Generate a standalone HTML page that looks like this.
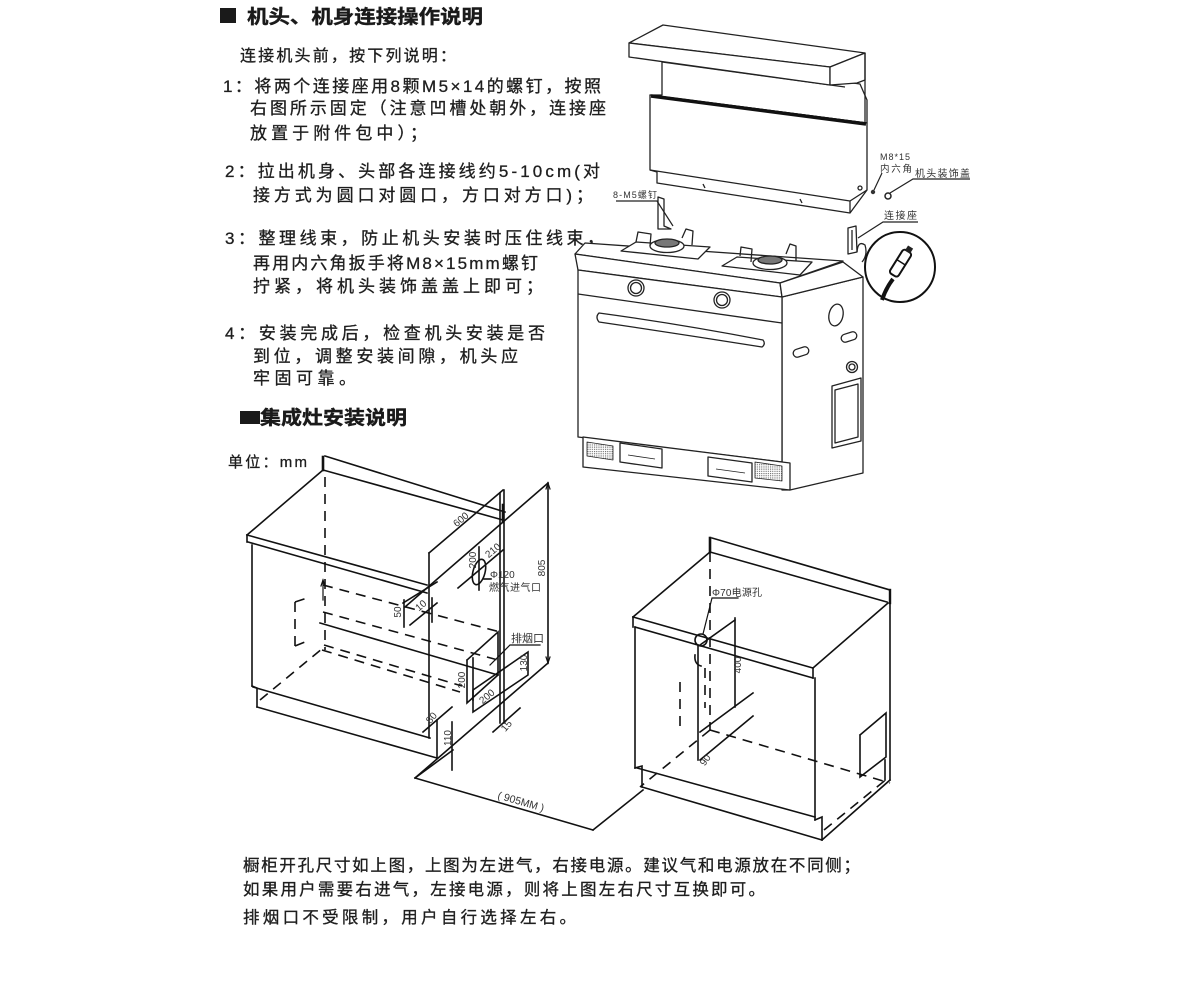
<!DOCTYPE html>
<html><head><meta charset="utf-8"><style>
html,body{margin:0;padding:0;background:#fff;}
svg{display:block;}
.t{font-family:"Liberation Sans","Noto Sans CJK SC",sans-serif;fill:#1e1e1e;stroke:#1e1e1e;stroke-width:0.3;}
.b{font-family:"Liberation Sans","Noto Sans CJK SC",sans-serif;font-weight:bold;fill:#1a1a1a;stroke:#1a1a1a;stroke-width:0.4;}
.s{font-family:"Liberation Sans","Noto Sans CJK SC",sans-serif;fill:#333;}
</style></head><body>
<svg width="1200" height="1000" viewBox="0 0 1200 1000" xmlns="http://www.w3.org/2000/svg">
<defs>
<pattern id="grill" width="2.2" height="2.2" patternUnits="userSpaceOnUse"><rect width="1.1" height="1.1" fill="#666"/></pattern>
</defs>
<rect width="1200" height="1000" fill="#fff"/>

<!-- ===== TEXT: section 1 ===== -->
<rect x="220" y="8" width="16" height="15" fill="#1a1a1a"/>
<text class="b" x="247" y="23" font-size="19" textLength="236" lengthAdjust="spacingAndGlyphs">机头、机身连接操作说明</text>
<text class="t" x="240" y="61" font-size="16" textLength="216" lengthAdjust="spacing">连接机头前，按下列说明：</text>

<text class="t" x="223" y="92" font-size="17" textLength="378" lengthAdjust="spacing">1：将两个连接座用8颗M5×14的螺钉，按照</text>
<text class="t" x="250" y="114" font-size="17" textLength="356" lengthAdjust="spacing">右图所示固定（注意凹槽处朝外，连接座</text>
<text class="t" x="250" y="139" font-size="17" textLength="177" lengthAdjust="spacing">放置于附件包中）；</text>

<text class="t" x="225" y="177" font-size="17" textLength="375" lengthAdjust="spacing">2：拉出机身、头部各连接线约5-10cm(对</text>
<text class="t" x="253" y="201" font-size="17" textLength="340" lengthAdjust="spacing">接方式为圆口对圆口，方口对方口)；</text>

<text class="t" x="225" y="244" font-size="17" textLength="379" lengthAdjust="spacing">3：整理线束，防止机头安装时压住线束，</text>
<text class="t" x="253" y="269" font-size="17" textLength="285" lengthAdjust="spacing">再用内六角扳手将M8×15mm螺钉</text>
<text class="t" x="253" y="292" font-size="17" textLength="290" lengthAdjust="spacing">拧紧，将机头装饰盖盖上即可；</text>

<text class="t" x="225" y="339" font-size="17" textLength="320" lengthAdjust="spacing">4：安装完成后，检查机头安装是否</text>
<text class="t" x="253" y="362" font-size="17" textLength="265" lengthAdjust="spacing">到位，调整安装间隙，机头应</text>
<text class="t" x="253" y="384" font-size="17" textLength="103" lengthAdjust="spacing">牢固可靠。</text>

<rect x="240" y="411" width="20" height="13" fill="#1a1a1a"/>
<text class="b" x="260" y="424" font-size="19" textLength="147" lengthAdjust="spacingAndGlyphs">集成灶安装说明</text>

<text class="t" x="228" y="467" font-size="15" textLength="79" lengthAdjust="spacing">单位：mm</text>

<!-- bottom text -->
<text class="t" x="243" y="871" font-size="16.5" textLength="617" lengthAdjust="spacing">橱柜开孔尺寸如上图，上图为左进气，右接电源。建议气和电源放在不同侧；</text>
<text class="t" x="243" y="895" font-size="16.5" textLength="522" lengthAdjust="spacing">如果用户需要右进气，左接电源，则将上图左右尺寸互换即可。</text>
<text class="t" x="243" y="923" font-size="16.5" textLength="333" lengthAdjust="spacing">排烟口不受限制，用户自行选择左右。</text>

<!-- ===== STOVE / HOOD ===== -->
<g stroke="#222" stroke-width="1.3" fill="#fff" stroke-linejoin="round">
  <polygon points="662,56 860,84 867,100 867,123 650,95 662,95"/>
  <line x1="662" y1="62" x2="845" y2="87"/>
  <polygon points="629,43 663,25 865,53 830,67"/>
  <polygon points="629,43 830,67 830,85 629,57"/>
  <polygon points="830,67 865,53 865,80 857,83 830,85"/>
  <line x1="865" y1="53" x2="865" y2="123"/>
  <polygon points="650,95 867,123 867,190 850,213 657,183 657,172 650,170"/>
  <line x1="650" y1="170" x2="850" y2="201"/>
  <line x1="850" y1="201" x2="850" y2="213"/>
  <line x1="850" y1="201" x2="867" y2="190"/>
  <line x1="703" y1="184" x2="705" y2="188"/>
  <line x1="800" y1="199" x2="802" y2="203"/>
  <circle cx="860" cy="188" r="2"/>
</g>
<line x1="651" y1="96" x2="866" y2="124" stroke="#111" stroke-width="3.5"/>

<g stroke="#222" stroke-width="1.3" fill="#fff" stroke-linejoin="round">
  <polygon points="782,297 863,277 863,473 790,490 782,490"/>
  <polygon points="575,254 585,243 843,261 780,283"/>
  <polygon points="575,254 780,283 782,297 578,270"/>
  <polygon points="780,283 843,262 863,277 782,297"/>
  <polygon points="578,270 782,297 782,462 578,437"/>
  <line x1="578" y1="294" x2="782" y2="323"/>
  <polygon points="583,437 782,462 790,463 790,490 583,467"/>
  <circle cx="636" cy="288" r="8"/><circle cx="636" cy="288" r="5.5"/>
  <circle cx="722" cy="300" r="8"/><circle cx="722" cy="300" r="5.5"/>
  <path d="M599,313 Q680,324 763,340 Q766,344 762,347 Q680,334 599,322 Q595,317 599,313 Z"/>
  <polygon points="621,251 636,242 710,247 698,259"/>
  <polygon points="722,266 737,257 812,262 800,275"/>
  <ellipse cx="667" cy="246" rx="17" ry="6.5"/>
  <ellipse cx="667" cy="243" rx="12" ry="4" fill="#777"/>
  <ellipse cx="770" cy="263" rx="17" ry="6.5"/>
  <ellipse cx="770" cy="260" rx="12" ry="4" fill="#777"/>
  <polyline fill="none" points="636,242 638,232 651,234 650,246"/>
  <polyline fill="none" points="682,238 686,229 693,231 692,245"/>
  <polyline fill="none" points="740,256 741,247 752,249 751,262"/>
  <polyline fill="none" points="786,254 790,244 796,246 796,261"/>
  <polygon points="658,197 664,199 664,226 671,229 658,229"/>
  <polygon points="848,228 856,226 857,252 848,254"/>
  <line x1="852" y1="230" x2="852" y2="250"/>
  <path d="M857,252 Q858,240 865,245 Q868,255 862,262" fill="none"/>
  <ellipse cx="836" cy="315" rx="7" ry="11" transform="rotate(12 836 315)"/>
  <rect x="841" y="333" width="16" height="8" rx="4" transform="rotate(-18 849 337)"/>
  <rect x="793" y="348" width="16" height="8" rx="4" transform="rotate(-18 801 352)"/>
  <circle cx="852" cy="367" r="5.5"/><circle cx="852" cy="367" r="3"/>
  <polygon points="832,386 861,378 861,441 832,448"/>
  <polygon points="835,390 858,384 858,437 835,443"/>
  <polygon points="587,442 613,446 613,460 587,456" fill="url(#grill)" stroke-width="0.8"/>
  <polygon points="620,443 662,449 662,468 620,462"/>
  <line x1="628" y1="455" x2="655" y2="459" stroke-width="0.8"/>
  <polygon points="708,457 752,463 752,482 708,476"/>
  <line x1="716" y1="469" x2="745" y2="473" stroke-width="0.8"/>
  <polygon points="755,462 782,466 782,481 755,478" fill="url(#grill)" stroke-width="0.8"/>
</g>

<g stroke="#222" stroke-width="1.2" fill="none">
  <polyline points="616,201 657,201 673,226"/>
  <line x1="882" y1="173" x2="874" y2="190"/>
  <polyline points="970,179 913,179 890,193"/>
  <polyline points="918,222 883,222 858,238"/>
</g>
<circle cx="873" cy="192" r="2.2" fill="#333"/>
<circle cx="888" cy="196" r="3" fill="#fff" stroke="#222" stroke-width="1.5"/>
<text class="s" x="613" y="198" font-size="9" textLength="44" lengthAdjust="spacing">8-M5螺钉</text>
<text class="s" x="880" y="160" font-size="9" textLength="30" lengthAdjust="spacing">M8*15</text>
<text class="s" x="880" y="172" font-size="9.5" textLength="32" lengthAdjust="spacing">内六角</text>
<text class="s" x="915" y="177" font-size="10" textLength="55" lengthAdjust="spacing">机头装饰盖</text>
<text class="s" x="884" y="219" font-size="10" textLength="33" lengthAdjust="spacing">连接座</text>

<circle cx="900" cy="267" r="35" fill="#fff" stroke="#111" stroke-width="2"/>
<path d="M882,300 Q886,288 893,279" stroke="#111" stroke-width="4" fill="none"/>
<g transform="rotate(32 900 264)">
  <rect x="895" y="249" width="10" height="28" rx="3" fill="#fff" stroke="#111" stroke-width="2"/>
  <line x1="895" y1="262" x2="905" y2="262" stroke="#111" stroke-width="1.5"/>
  <rect x="897" y="244" width="6" height="6" fill="#222"/>
</g>

<!-- ===== LEFT CABINET DIAGRAM ===== -->
<g stroke="#111" stroke-width="1.6" fill="none" stroke-linecap="square">
  <line x1="323" y1="457" x2="323" y2="470" stroke-width="2.6"/>
  <line x1="325" y1="456" x2="505" y2="512"/>
  <line x1="323" y1="470" x2="503" y2="520"/>
  <line x1="503" y1="505" x2="503" y2="522" stroke-width="2.6"/>
  <line x1="323" y1="470" x2="247" y2="535"/>
  <line x1="247" y1="535" x2="247" y2="542"/>
  <line x1="247" y1="535" x2="427" y2="585"/>
  <line x1="248" y1="542" x2="427" y2="593"/>
  <line x1="252" y1="545" x2="252" y2="686"/>
  <polyline points="252,686 257,688 257,707"/>
  <line x1="253" y1="687" x2="430" y2="738"/>
  <line x1="257" y1="707" x2="437" y2="758"/>
  <line x1="429" y1="553" x2="429" y2="738"/>
  <line x1="437" y1="720" x2="437" y2="758"/>
  <line x1="429" y1="553" x2="503" y2="490"/>
  <line x1="500" y1="493" x2="500" y2="723"/>
  <line x1="504" y1="490" x2="504" y2="723"/>
  <line x1="405" y1="607" x2="548" y2="483"/>
  <line x1="548" y1="483" x2="548" y2="663"/>
  <line x1="548" y1="663" x2="415" y2="778"/>
  <line x1="415" y1="778" x2="593" y2="830"/>
  <line x1="593" y1="830" x2="643" y2="790"/>
  <ellipse cx="479" cy="572" rx="6" ry="13" transform="rotate(15 479 572)"/>
  <line x1="458" y1="588" x2="503" y2="550"/>
  <line x1="479" y1="547" x2="479" y2="590"/>
  <line x1="484" y1="579" x2="491" y2="579"/>
  <line x1="403" y1="603" x2="437" y2="582"/>
  <line x1="410" y1="625" x2="437" y2="603"/>
  <line x1="404" y1="600" x2="404" y2="627"/>
  <line x1="432" y1="598" x2="432" y2="622"/>
  <line x1="320" y1="623" x2="498" y2="675"/>
  <polyline points="467,660 467,703 498,675 498,632 467,660"/>
  <line x1="473" y1="658" x2="473" y2="700"/>
  <polygon points="473,690 528,652 528,675 473,712"/>
  <polyline points="490,665 510,645 540,645" stroke-width="1.2"/>
  <line x1="423" y1="732" x2="452" y2="707"/>
  <line x1="452" y1="722" x2="452" y2="770"/>
  <line x1="493" y1="732" x2="520" y2="708"/>
  <line x1="415" y1="778" x2="453" y2="750"/>
  <!-- small arrow ticks -->
  <polyline points="321,586 323,580 325,586" stroke-width="1.2"/>
  <line x1="323" y1="580" x2="323" y2="600" stroke-width="1.2"/>
  <polyline points="546,489 548,483 550,489" stroke-width="1.2"/>
  <polyline points="546,657 548,663 550,657" stroke-width="1.2"/>
</g>
<g stroke="#111" stroke-width="1.6" fill="none" stroke-dasharray="10 7">
  <line x1="325" y1="477" x2="325" y2="650"/>
  <line x1="323" y1="585" x2="500" y2="632"/>
  <line x1="323" y1="612" x2="498" y2="660"/>
  <line x1="322" y1="650" x2="460" y2="692"/>
  <line x1="324" y1="645" x2="462" y2="686"/>
  <line x1="260" y1="700" x2="323" y2="648"/>
  <line x1="295" y1="602" x2="295" y2="646"/>
  <line x1="295" y1="602" x2="310" y2="597"/>
  <line x1="295" y1="646" x2="310" y2="640"/>
</g>
<g class="s" font-size="10" fill="#333">
  <text transform="translate(463 522) rotate(-40)" text-anchor="middle">600</text>
  <text transform="translate(545 568) rotate(-90)" text-anchor="middle">805</text>
  <text transform="translate(476 560) rotate(-90)" text-anchor="middle">200</text>
  <text transform="translate(495 553) rotate(-40)" text-anchor="middle">210</text>
  <text x="490" y="578" class="s">Φ120</text>
  <text x="489" y="591" class="s" textLength="52" lengthAdjust="spacing">燃气进气口</text>
  <text transform="translate(401 612) rotate(-90)" text-anchor="middle">50</text>
  <text transform="translate(423 608) rotate(-40)" text-anchor="middle">10</text>
  <text x="511" y="642" class="s" font-size="11">排烟口</text>
  <text transform="translate(527 663) rotate(-90)" text-anchor="middle">130</text>
  <text transform="translate(465 680) rotate(-90)" text-anchor="middle">200</text>
  <text transform="translate(489 699) rotate(-40)" text-anchor="middle">200</text>
  <text transform="translate(434 720) rotate(-50)" text-anchor="middle">80</text>
  <text transform="translate(451 738) rotate(-90)" text-anchor="middle">110</text>
  <text transform="translate(509 728) rotate(-50)" text-anchor="middle">15</text>
  <text transform="translate(520 805) rotate(16)" text-anchor="middle" font-size="10.5">( 905MM )</text>
</g>

<!-- ===== RIGHT CABINET DIAGRAM ===== -->
<g stroke="#111" stroke-width="1.6" fill="none" stroke-linecap="square">
  <line x1="710" y1="538" x2="710" y2="552" stroke-width="2.6"/>
  <line x1="712" y1="538" x2="890" y2="590"/>
  <line x1="890" y1="590" x2="890" y2="603" stroke-width="2.4"/>
  <line x1="710" y1="552" x2="887" y2="602"/>
  <line x1="710" y1="552" x2="633" y2="617"/>
  <line x1="633" y1="617" x2="633" y2="627"/>
  <line x1="633" y1="617" x2="813" y2="668"/>
  <line x1="635" y1="627" x2="813" y2="678"/>
  <line x1="813" y1="668" x2="813" y2="678"/>
  <line x1="813" y1="668" x2="888" y2="603"/>
  <line x1="890" y1="603" x2="890" y2="780"/>
  <line x1="635" y1="627" x2="635" y2="768"/>
  <polyline points="635,768 642,766 642,787"/>
  <line x1="637" y1="768" x2="815" y2="817"/>
  <line x1="815" y1="678" x2="815" y2="820"/>
  <polyline points="815,820 822,817 822,840"/>
  <line x1="642" y1="787" x2="822" y2="840"/>
  <line x1="822" y1="840" x2="890" y2="780"/>
  <polyline points="860,735 860,777 886,757 886,713 860,735"/>
  <line x1="885" y1="760" x2="885" y2="780"/>
  <line x1="698" y1="645" x2="698" y2="760"/>
  <line x1="735" y1="618" x2="735" y2="707"/>
  <line x1="700" y1="645" x2="735" y2="620"/>
  <line x1="700" y1="732" x2="753" y2="693"/>
  <line x1="700" y1="760" x2="753" y2="716"/>
  <circle cx="701" cy="640" r="6"/>
  <path d="M695,655 Q694,664 701,666" />
  <polyline points="703,634 712,598 738,598" stroke-width="1.2"/>
</g>
<g stroke="#111" stroke-width="1.6" fill="none" stroke-dasharray="10 7">
  <line x1="710" y1="552" x2="710" y2="730"/>
  <line x1="710" y1="730" x2="890" y2="783"/>
  <line x1="710" y1="730" x2="640" y2="787"/>
  <line x1="824" y1="830" x2="888" y2="778"/>
  <line x1="680" y1="682" x2="680" y2="727"/>
  <line x1="705" y1="668" x2="705" y2="708"/>
</g>
<g class="s" font-size="10" fill="#333">
  <text x="712" y="596" textLength="50" lengthAdjust="spacing">Φ70电源孔</text>
  <text transform="translate(741 665) rotate(-90)" text-anchor="middle">400</text>
  <text transform="translate(708 762) rotate(-55)" text-anchor="middle">90</text>
</g>
</svg>
</body></html>
